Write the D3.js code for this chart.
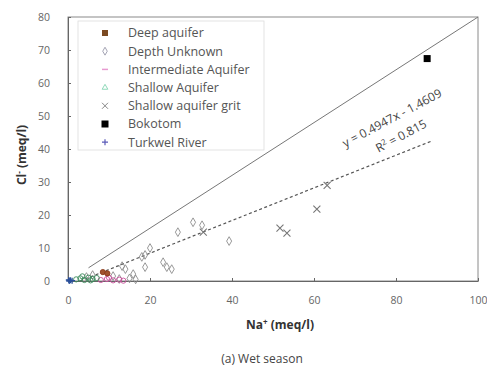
<!DOCTYPE html>
<html>
<head>
<meta charset="utf-8">
<script src="https://cdn.jsdelivr.net/npm/d3@7"></script>
<style>
  body { margin: 0; background: #fff; }
  svg { font-family: "Open Sans", sans-serif; }
</style>
</head>
<body>
<svg id="chart" width="487" height="368"></svg>
<script>
// values: [Na, Cl] in meq/l
const deepAquifer = [[8.5, 2.7], [9.6, 2.3]];
const depthUnknown = [[30.5, 17.8], [32.7, 16.9], [26.8, 14.8], [39.3, 12.1], [20, 10], [18.8, 7.9],
  [18, 7.3], [23.2, 5.7], [24.1, 4.2], [25.3, 3.6], [18.8, 4.2], [15.9, 2.1], [13.2, 4.5], [14, 3.6],
  [11, 1.5], [12.5, 0.6], [15, 0.8], [16.5, 0.5], [6, 1.8], [4.5, 1.2]];
const intermediateAquifer = [[8, 0.3], [9.5, 0.6], [11, 0.2], [12.5, 0.4], [10, 1], [13.5, 0.1]];
const shallowAquifer = [[2, 0.5], [3, 0.8], [4, 0.3], [5, 1], [6, 0.6], [3.5, 1.4], [5.5, 0.2], [7, 0.9]];
const shallowGrit = [[63.2, 29], [60.7, 21.8], [51.7, 16], [53.4, 14.5], [33, 14.8]];
const bokotom = [[87.6, 67.4]];
const turkwelRiver = [[0.3, 0], [0.6, 0.2], [1, 0.1], [0.2, 0.3]];

const xTicks = [0, 20, 40, 60, 80, 100];
const yTicks = [0, 10, 20, 30, 40, 50, 60, 70, 80];

const slope = 0.4947, intercept = -1.4609;   // fitted line
const refSlope = 0.8;                         // solid reference line

const svg = d3.select("#chart");
const plotL = 68, plotR = 478, plotT = 17, plotB = 281;

const x = d3.scaleLinear().domain([0, 100]).range([plotL, plotR]);
const y = d3.scaleLinear().domain([0, 80]).range([plotB, plotT]);

// frame
svg.append("rect")
  .attr("x", plotL).attr("y", plotT)
  .attr("width", plotR - plotL).attr("height", plotB - plotT)
  .attr("fill", "none").attr("stroke", "#8a8a8a").attr("stroke-width", 1);

const xAxis = svg.append("g")
  .attr("transform", `translate(0,${plotB})`)
  .call(d3.axisBottom(x).tickValues(xTicks).tickSizeInner(-3).tickSizeOuter(0).tickPadding(16));
const yAxis = svg.append("g")
  .attr("transform", `translate(${plotL},0)`)
  .call(d3.axisLeft(y).tickValues(yTicks).tickSizeInner(-3).tickSizeOuter(0).tickPadding(18));

[xAxis, yAxis].forEach(a => {
  a.select(".domain").attr("stroke", "#666");
  a.selectAll(".tick line").attr("stroke", "#666");
  a.selectAll(".tick text")
    .attr("fill", "#666")
    .style("font-size", "10.5px")
    .style("font-family", "'Open Sans', sans-serif");
});

// lines
const line = d3.line().x(d => x(d[0])).y(d => y(d[1]));
svg.append("path")
  .attr("d", line([[5, 5 * refSlope], [100, 100 * refSlope]]))
  .attr("stroke", "#777").attr("stroke-width", 1).attr("fill", "none");
svg.append("path")
  .attr("d", line([[3, 3 * slope + intercept], [89, 89 * slope + intercept]]))
  .attr("stroke", "#555").attr("stroke-width", 1.2).attr("stroke-dasharray", "3,2.5").attr("fill", "none");

// points
const g = svg.append("g");
const plusPath = "M-3,0L3,0M0,-3L0,3";
const xPath = "M-3.5,-3.5L3.5,3.5M-3.5,3.5L3.5,-3.5";
function circles(data, stroke, fill) {
  g.selectAll(null).data(data).join("circle")
    .attr("cx", d => x(d[0])).attr("cy", d => y(d[1])).attr("r", 2.6)
    .attr("fill", fill).attr("stroke", stroke).attr("stroke-width", 0.9);
}
function marks(data, path, stroke, w) {
  g.selectAll(null).data(data).join("path")
    .attr("d", path)
    .attr("transform", d => `translate(${x(d[0])},${y(d[1])})`)
    .attr("fill", "none").attr("stroke", stroke).attr("stroke-width", w);
}

marks(depthUnknown, d3.symbol(d3.symbolDiamond, 22)(), "#8c8c8c", 0.9);
circles(intermediateAquifer, "#c8509c", "none");
circles(shallowAquifer, "#3a8a5a", "none");
circles(deepAquifer, "#8a3a1a", "#a0522d");
marks(shallowGrit, xPath, "#777", 1.1);
g.selectAll(null).data(bokotom).join("rect")
  .attr("x", d => x(d[0]) - 3.5).attr("y", d => y(d[1]) - 3.5)
  .attr("width", 7).attr("height", 7).attr("fill", "#000");
marks(turkwelRiver, plusPath, "#2a4f9a", 1.3);

// legend
const legendNames = ["Deep aquifer", "Depth Unknown", "Intermediate Aquifer", "Shallow Aquifer",
  "Shallow aquifer grit", "Bokotom", "Turkwel River"];
const leg = svg.append("g");
leg.append("rect").attr("x", 78).attr("y", 21).attr("width", 186).attr("height", 129)
  .attr("fill", "#fff").attr("stroke", "#ddd").attr("stroke-width", 0.8);
legendNames.forEach((name, i) => {
  const ly = 33 + i * 18.2, lx = 105;
  const m = leg.append("g").attr("transform", `translate(${lx},${ly})`);
  if (i === 0) m.append("rect").attr("x", -3).attr("y", -3).attr("width", 6).attr("height", 6).attr("fill", "#7b4a22");
  if (i === 1) m.append("path").attr("d", d3.symbol(d3.symbolDiamond, 18)).attr("fill", "none").attr("stroke", "#99a").attr("stroke-width", 0.9);
  if (i === 2) m.append("path").attr("d", "M-3,0L3,0").attr("stroke", "#e79ad0").attr("stroke-width", 1.5);
  if (i === 3) m.append("path").attr("d", d3.symbol(d3.symbolTriangle, 14)).attr("fill", "none").attr("stroke", "#8fd9b9").attr("stroke-width", 1);
  if (i === 4) m.append("path").attr("d", "M-3,-3L3,3M-3,3L3,-3").attr("stroke", "#888").attr("stroke-width", 1);
  if (i === 5) m.append("rect").attr("x", -3.5).attr("y", -3.5).attr("width", 7).attr("height", 7).attr("fill", "#000");
  if (i === 6) m.append("path").attr("d", plusPath).attr("fill", "none").attr("stroke", "#5a5ab8").attr("stroke-width", 1.2);
  leg.append("text").attr("x", 128).attr("y", ly).attr("dy", "0.35em")
    .attr("fill", "#555").style("font-size", "12.5px").text(name);
});

// regression labels
svg.append("text").attr("transform", "translate(392,118) rotate(-28)")
  .attr("text-anchor", "middle").attr("dy", "0.35em")
  .attr("fill", "#444").style("font-size", "12px").text("y = 0.4947x - 1.4609");
svg.append("text").attr("transform", "translate(401,136) rotate(-28)")
  .attr("text-anchor", "middle").attr("dy", "0.35em")
  .attr("fill", "#444").style("font-size", "12px")
  .html('R<tspan dy="-4" font-size="8px">2</tspan><tspan dy="4"> = 0.815</tspan>');

// axis titles
svg.append("text").attr("x", 280).attr("y", 325).attr("text-anchor", "middle").attr("dy", "0.35em")
  .attr("fill", "#333").style("font-size", "12px").style("font-weight", "bold")
  .html('Na<tspan dy="-4" font-size="8px">+</tspan><tspan dy="4"> (meq/l)</tspan>');
svg.append("text").attr("transform", "translate(22,155) rotate(-90)").attr("text-anchor", "middle").attr("dy", "0.35em")
  .attr("fill", "#333").style("font-size", "12px").style("font-weight", "bold")
  .html('Cl<tspan dy="-4" font-size="8px">-</tspan><tspan dy="4"> (meq/l)</tspan>');

svg.append("text").attr("x", 262).attr("y", 359).attr("text-anchor", "middle").attr("dy", "0.35em")
  .attr("fill", "#444").style("font-size", "12px").text("(a) Wet season");
</script>
</body>
</html>
